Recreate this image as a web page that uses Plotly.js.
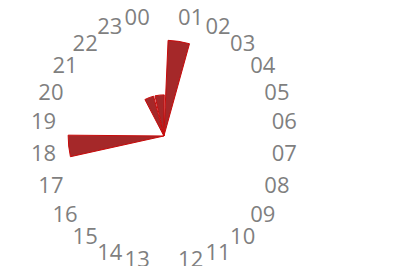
<!DOCTYPE html>
<html>
<head>
<meta charset="utf-8">
<script src="https://cdn.plot.ly/plotly-3.0.1.min.js"></script>
<style>html,body{margin:0;padding:0;background:#fff;}#chart{width:416px;height:266px;}</style>
</head>
<body>
<div id="chart"></div>
<script>
// Data
const hourLabels = ['00','01','02','03','04','05','06','07','08','09','10','11','12','13','14','15','16','17','18','19','20','21','22','23'];
const barHours = ['01','00','23','18'];
const barValues = [8.85, 3.8, 3.8, 8.85];

const hourAngle = h => parseInt(h, 10) * 15;
const barWidth = 13;

const trace = {
  type: 'barpolar',
  theta: barHours.map(hourAngle),
  r: barValues,
  width: barHours.map(() => barWidth),
  offset: -barWidth / 2 + 1.5,
  marker: {color: '#a52829', line: {color: '#c80a0a', width: 1}},
  hoverinfo: 'none'
};

const layout = {
  width: 416, height: 266,
  margin: {l: 0, r: 0, t: 0, b: 0},
  paper_bgcolor: '#ffffff',
  showlegend: false,
  polar: {
    domain: {x: [0.12, 0.668], y: [0.082, 0.8955]},
    bgcolor: '#ffffff',
    bargap: 0,
    radialaxis: {visible: false, range: [0, 10]},
    angularaxis: {
      type: 'linear', thetaunit: 'degrees',
      rotation: 97.5, direction: 'clockwise',
      tickvals: hourLabels.map(hourAngle), ticktext: hourLabels,
      showgrid: false, showline: false, ticks: '',
      tickfont: {family: 'Open Sans', size: 22, color: '#7f7f7f'}
    }
  }
};

Plotly.newPlot('chart', [trace], layout, {staticPlot: true, displayModeBar: false});
</script>
</body>
</html>
